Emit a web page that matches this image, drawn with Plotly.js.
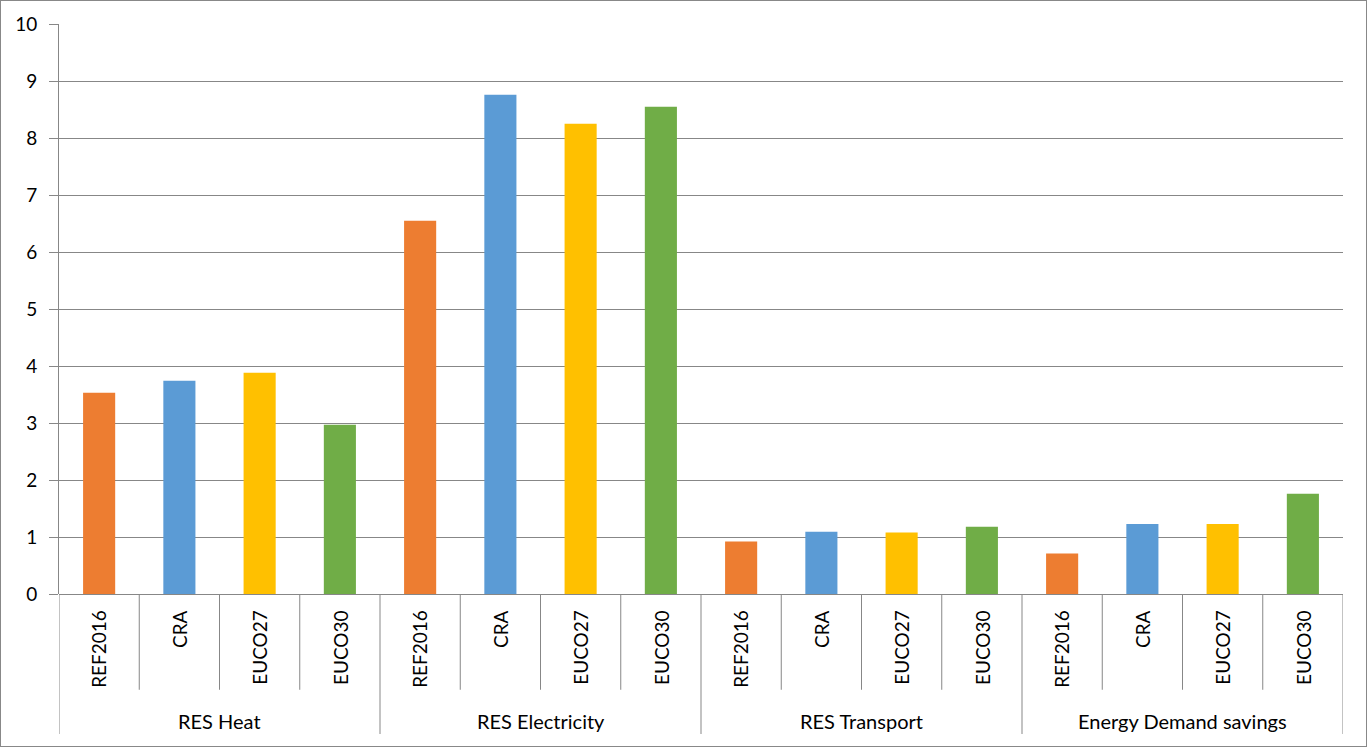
<!DOCTYPE html>
<html>
<head>
<meta charset="utf-8">
<script src="https://cdn.plot.ly/plotly-3.0.1.min.js"></script>
<style>
  html, body { margin: 0; padding: 0; background: #fff; }
  #wrap { position: relative; width: 1367px; height: 747px; }
  #chart { width: 1367px; height: 747px; }
  #frame { position: absolute; left: 0; top: 0; width: 1365px; height: 745px; border: 1px solid #888; pointer-events: none; }
</style>
</head>
<body>
<div id="wrap"><div id="chart"></div><div id="frame"></div></div>
<script>
// ---- data ----
const groups = ["RES Heat", "RES Electricity", "RES Transport", "Energy Demand savings"];
const scenarios = ["REF2016", "CRA", "EUCO27", "EUCO30"];
const REF2016 = [3.53, 6.55, 0.92, 0.71];
const CRA     = [3.74, 8.76, 1.09, 1.23];
const EUCO27  = [3.88, 8.25, 1.08, 1.23];
const EUCO30  = [2.97, 8.55, 1.18, 1.76];
const yTicks = [0, 1, 2, 3, 4, 5, 6, 7, 8, 9, 10];

// ---- styling ----
const colors = { REF2016: "#ED7D31", CRA: "#5B9BD5", EUCO27: "#FFC000", EUCO30: "#70AD47" };
const gridColor = "#878787";
const fontFam = "Lato, 'Open Sans', sans-serif";
const series = { REF2016, CRA, EUCO27, EUCO30 };

const xs = [], ys = [], cs = [], texts = [];
groups.forEach((g, gi) => {
  scenarios.forEach((s, si) => {
    xs.push(gi * scenarios.length + si);
    ys.push(series[s][gi]);
    cs.push(colors[s]);
    texts.push(g + " – " + s);
  });
});

const n = xs.length;
const shapes = [];
const annotations = [];
const innerBottom = -0.168;
const groupBottom = -0.2456;

for (let k = 0; k <= n; k++) {
  const isGroup = (k % scenarios.length === 0);
  shapes.push({
    type: "line", xref: "x", yref: "paper",
    x0: k - 0.5, x1: k - 0.5,
    y0: 0, y1: isGroup ? groupBottom : innerBottom,
    line: { color: gridColor, width: 1 }
  });
}

xs.forEach((x, i) => {
  annotations.push({
    xref: "x", yref: "paper", x: x, y: -0.024,
    text: scenarios[i % scenarios.length],
    textangle: -90, showarrow: false,
    xanchor: "center", yanchor: "top",
    font: { family: fontFam, size: 19, color: "#000" }
  });
});
groups.forEach((g, gi) => {
  annotations.push({
    xref: "x", yref: "paper",
    x: gi * scenarios.length + (scenarios.length - 1) / 2, y: -0.2228,
    text: g, showarrow: false,
    xanchor: "center", yanchor: "middle",
    font: { family: fontFam, size: 20, color: "#000" }
  });
});

const trace = {
  type: "bar", x: xs, y: ys, width: 0.4,
  marker: { color: cs, line: { width: 0 } },
  hovertext: texts, hoverinfo: "text+y"
};

const layout = {
  width: 1367, height: 747,
  margin: { l: 59, r: 24, t: 24, b: 153 },
  paper_bgcolor: "#fff", plot_bgcolor: "#fff",
  showlegend: false,
  font: { family: fontFam, size: 20, color: "#000" },
  xaxis: {
    range: [-0.5, n - 0.5], showticklabels: false, showgrid: false,
    zeroline: false, showline: false, ticks: "", fixedrange: true
  },
  yaxis: {
    range: [0, 10], tickvals: yTicks, ticktext: yTicks.map(String),
    showgrid: true, gridcolor: gridColor, gridwidth: 1,
    zeroline: true, zerolinecolor: gridColor, zerolinewidth: 1,
    showline: true, linecolor: gridColor, linewidth: 1,
    ticks: "outside", ticklen: 9, tickcolor: gridColor,
    ticklabelstandoff: 8,
    tickfont: { family: fontFam, size: 19, color: "#000" },
    fixedrange: true
  },
  shapes: shapes,
  annotations: annotations
};

Plotly.newPlot("chart", [trace], layout, { displayModeBar: false, staticPlot: true });
</script>
</body>
</html>
